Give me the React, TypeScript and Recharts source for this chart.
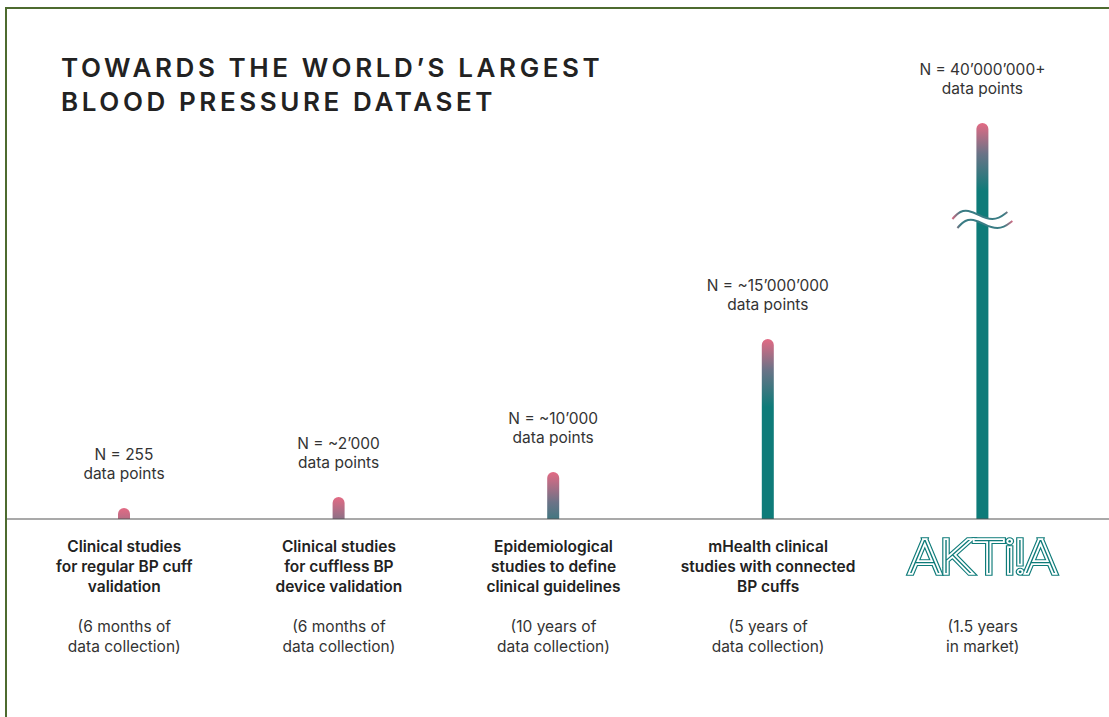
import { BarChart, Bar, XAxis, YAxis, LabelList } from "recharts";

// visual bar heights (the original chart is not to scale)
const barHeights = [11, 22, 47, 180, 396];

const countLabels = ["N = 255", "N = ~2’000", "N = ~10’000", "N = ~15’000’000", "N = 40’000’000+"];

const categoryLines = [
  ["Clinical studies", "for regular BP cuff", "validation"],
  ["Clinical studies", "for cuffless BP", "device validation"],
  ["Epidemiological", "studies to define", "clinical guidelines"],
  ["mHealth clinical", "studies with connected", "BP cuffs"],
  [],
];

const periodLines = [
  ["(6 months of", "data collection)"],
  ["(6 months of", "data collection)"],
  ["(10 years of", "data collection)"],
  ["(5 years of", "data collection)"],
  ["(1.5 years", "in market)"],
];

const brandName = "AKTi!A";
const brokenIndex = 4;

const data = barHeights.map((h, i) => ({ key: `c${i}`, value: h }));

const PINK = "#e36a84";
const MID = "#6b7387";
const TEAL = "#0e7b79";
const FONT = "Inter, 'Noto Sans', sans-serif";
const AXIS_Y = 519;

// tilde-shaped break mark, relative to the bar centre
function tilde(cx: number, cy: number) {
  const p = (dx: number, dy: number) => `${cx + dx} ${cy + dy}`;
  return `M ${p(-30, 4)} C ${p(-24, -3)} ${p(-20, -5)} ${p(-14, -4)} C ${p(-4, -2)} ${p(0, 4)} ${p(10, 4)} C ${p(17, 4)} ${p(21, 0)} ${p(25, -3)}`;
}
function tildeReversed(cx: number, cy: number) {
  const p = (dx: number, dy: number) => `${cx + dx} ${cy + dy}`;
  return `L ${p(25, -3)} C ${p(21, 0)} ${p(17, 4)} ${p(10, 4)} C ${p(0, 4)} ${p(-4, -2)} ${p(-14, -4)} C ${p(-20, -5)} ${p(-24, -3)} ${p(-30, 4)}`;
}

function GradientBar(props: any) {
  const { x, y, width, height, index } = props;
  if (!height || height <= 0) return null;
  const r = Math.min(width / 2, height);
  const id = `barGrad${index}`;
  const d = `M ${x} ${y + height} L ${x} ${y + r} A ${r} ${r} 0 0 1 ${x + width} ${y + r} L ${x + width} ${y + height} Z`;
  const cx = x + width / 2;
  let brk = null;
  if (index === brokenIndex) {
    const yc = y + 92;
    const ly = yc + 9;
    const lx = cx + 5;
    brk = (
      <g>
        <defs>
          <linearGradient id="waveGrad" gradientUnits="userSpaceOnUse" x1={cx - 31} y1={0} x2={cx + 31} y2={0}>
            <stop offset="0" stopColor={PINK} />
            <stop offset="0.15" stopColor="#3a7c84" />
            <stop offset="0.85" stopColor="#3a7c84" />
            <stop offset="1" stopColor={PINK} />
          </linearGradient>
        </defs>
        <path d={`${tilde(cx, yc)} ${tildeReversed(lx, ly)} Z`} fill="#fff" />
        <path d={tilde(cx, yc)} fill="none" stroke="url(#waveGrad)" strokeWidth={2} />
        <path d={tilde(lx, ly)} fill="none" stroke="url(#waveGrad)" strokeWidth={2} />
      </g>
    );
  }
  return (
    <g>
      <defs>
        <linearGradient id={id} gradientUnits="userSpaceOnUse" x1={0} y1={y} x2={0} y2={y + 68}>
          <stop offset="0" stopColor={PINK} />
          <stop offset="0.45" stopColor={MID} />
          <stop offset="1" stopColor={TEAL} />
        </linearGradient>
      </defs>
      <path d={d} fill={`url(#${id})`} />
      {brk}
    </g>
  );
}

function CountLabel(props: any) {
  const { x, y, width, index } = props;
  const cx = x + width / 2;
  return (
    <g fontFamily={FONT} fontSize={15.5} fill="#333" textAnchor="middle">
      <text x={cx} y={y - 48}>{countLabels[index]}</text>
      <text x={cx} y={y - 29}>data points</text>
    </g>
  );
}

function BrandLogo({ x, y }: { x: number; y: number }) {
  const common = {
    x,
    y,
    textAnchor: "middle" as const,
    fontFamily: "Roboto, sans-serif",
    fontWeight: 100,
    fontSize: 47,
    textLength: 147,
    lengthAdjust: "spacingAndGlyphs",
  };
  return (
    <g>
      <text {...common} fill={TEAL} stroke={TEAL} strokeWidth={5.6} strokeLinejoin="miter">{brandName}</text>
      <text {...common} fill="#fff" stroke="#fff" strokeWidth={3.4} strokeLinejoin="miter">{brandName}</text>
      <text {...common} fill={TEAL}>{brandName}</text>
    </g>
  );
}

function CategoryTick(props: any) {
  const { x, payload } = props;
  const i = payload.index;
  const lines = categoryLines[i];
  return (
    <g fontFamily={FONT} textAnchor="middle">
      {i === brokenIndex ? (
        <BrandLogo x={x} y={AXIS_Y + 54} />
      ) : (
        lines.map((l, k) => (
          <text key={k} x={x} y={AXIS_Y + 33 + k * 20} fontSize={15.5} fontWeight={600} fill="#222">
            {l}
          </text>
        ))
      )}
      {periodLines[i].map((l, k) => (
        <text key={`p${k}`} x={x} y={AXIS_Y + 113 + k * 20} fontSize={15.5} fill="#333">
          {l}
        </text>
      ))}
    </g>
  );
}

export default function App() {
  return (
    <div style={{ position: "absolute", left: 0, top: 0, width: 1109, height: 717, background: "#fff", overflow: "hidden" }}>
      <div
        style={{
          position: "absolute",
          left: 5,
          top: 7,
          width: 1120,
          height: 730,
          borderLeft: "2px solid #4d6b2f",
          borderTop: "2px solid #4d6b2f",
        }}
      />
      <div
        style={{
          position: "absolute",
          left: 61,
          top: 51,
          fontFamily: FONT,
          fontWeight: 600,
          fontSize: 26,
          lineHeight: "34px",
          letterSpacing: 3.6,
          color: "#222",
          whiteSpace: "nowrap",
        }}
      >
        TOWARDS THE WORLD’S LARGEST
        <br />
        BLOOD PRESSURE DATASET
      </div>
      <div style={{ position: "absolute", left: 0, top: 0 }}>
        <BarChart width={1109} height={717} data={data} margin={{ top: 119, right: 0, bottom: 48, left: 7 }}>
          <YAxis type="number" domain={[0, 400]} hide />
          <XAxis
            dataKey="key"
            height={150}
            interval={0}
            tickLine={false}
            axisLine={{ stroke: "#555", strokeWidth: 1.2 }}
            padding={{ left: 10, right: 19 }}
            tick={<CategoryTick />}
          />
          <Bar dataKey="value" barSize={12} shape={<GradientBar />} isAnimationActive={false}>
            <LabelList dataKey="value" content={<CountLabel />} />
          </Bar>
        </BarChart>
      </div>
    </div>
  );
}
